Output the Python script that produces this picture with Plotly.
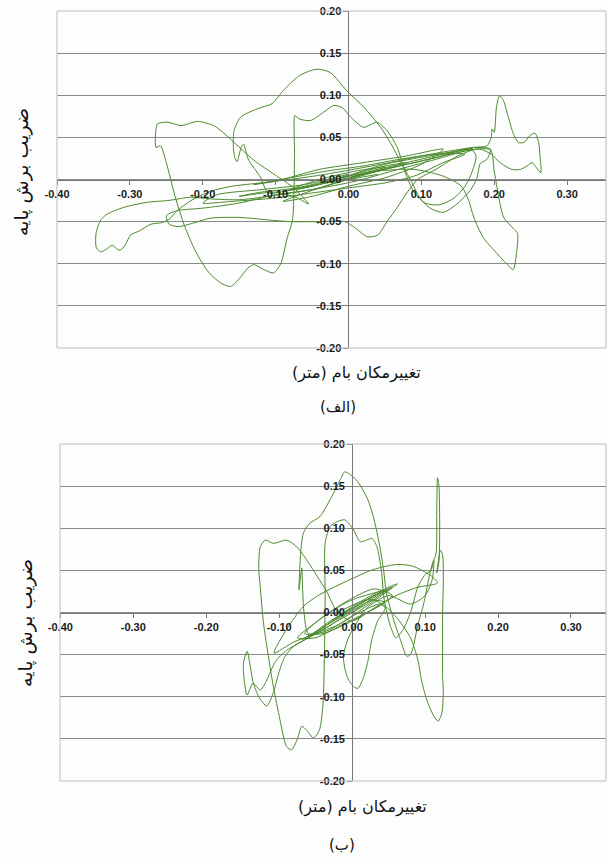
import plotly.graph_objects as go

# ---------------- data: chart (الف) ----------------
disp_a = [
    0.000, 0.040, 0.080, 0.050, 0.000, -0.050, -0.090, -0.060, -0.010, 0.050, 0.110, 0.150, 0.170, 0.120, 0.060, 0.010, -0.050, -0.110, -0.150, -0.190,
    -0.216, -0.248, -0.276, -0.308, -0.331, -0.340, -0.346, -0.347, -0.346, -0.340, -0.331, -0.324, -0.315, -0.308, -0.299, -0.287, -0.271, -0.255, -0.246, -0.235,
    -0.216, -0.189, -0.160, -0.120, -0.080, -0.040, 0.000, 0.050, 0.100, 0.140, 0.170, 0.190, 0.196, 0.197, 0.200, 0.203, 0.207, 0.212, 0.219, 0.226,
    0.233, 0.241, 0.249, 0.256, 0.261, 0.263, 0.264, 0.258, 0.252, 0.245, 0.236, 0.224, 0.208, 0.196, 0.180, 0.150, 0.100, 0.050, 0.000, -0.050,
    -0.100, -0.150, -0.200, -0.235, -0.250, -0.246, -0.234, -0.214, -0.190, -0.150, -0.110, -0.080, -0.040, -0.005, 0.010, 0.026, 0.040, 0.053, 0.067, 0.080,
    0.095, 0.120, 0.150, 0.175, 0.195, 0.200, 0.205, 0.213, 0.226, 0.232, 0.231, 0.226, 0.217, 0.204, 0.185, 0.172, 0.165, 0.155, 0.130, 0.090,
    0.040, 0.000, -0.040, -0.080, -0.110, -0.121, -0.137, -0.141, -0.144, -0.147, -0.153, -0.156, -0.158, -0.157, -0.148, -0.125, -0.105, -0.089, -0.066, -0.043,
    -0.025, -0.002, 0.021, 0.044, 0.058, 0.072, 0.085, 0.098, 0.112, 0.130, 0.149, 0.167, 0.176, 0.181, 0.190, 0.195, 0.175, 0.130, 0.080, 0.030,
    -0.020, -0.070, -0.120, -0.150, -0.100, -0.070, -0.055, -0.075, -0.100, -0.130, -0.157, -0.171, -0.185, -0.207, -0.230, -0.248, -0.262, -0.265, -0.264, -0.258,
    -0.250, -0.238, -0.225, -0.210, -0.192, -0.175, -0.162, -0.150, -0.138, -0.130, -0.118, -0.103, -0.093, -0.084, -0.077, -0.075, -0.074, -0.0735, -0.068, -0.052,
    -0.034, -0.020, -0.008, 0.003, 0.021, 0.039, 0.053, 0.067, 0.078, 0.090, 0.105, 0.125, 0.145, 0.160, 0.170, 0.175, 0.168, 0.120, 0.060, 0.010,
    -0.040, -0.080, -0.040, 0.010, 0.050, 0.020, -0.030, 0.000, -0.060, -0.120, -0.180, -0.200, -0.160, -0.100, -0.050, 0.000, 0.050, 0.090, 0.130, 0.160,
    0.120, 0.070, 0.020, -0.030, -0.080, -0.130, -0.100, -0.040, 0.020, 0.080, 0.130, 0.100, 0.050, 0.000, -0.050, -0.090, -0.060, -0.010, 0.040,
]
shear_a = [
    0.002, 0.012, 0.020, 0.016, 0.004, -0.008, -0.014, -0.010, 0.002, 0.018, 0.028, 0.034, 0.037, 0.024, 0.010, -0.002, -0.012, -0.020, -0.024, -0.023,
    -0.021, -0.025, -0.027, -0.033, -0.041, -0.048, -0.062, -0.072, -0.081, -0.086, -0.082, -0.078, -0.084, -0.080, -0.066, -0.061, -0.053, -0.051, -0.047, -0.037,
    -0.025, -0.014, -0.008, -0.004, 0.000, 0.005, 0.011, 0.019, 0.028, 0.034, 0.038, 0.040, 0.050, 0.060, 0.056, 0.085, 0.099, 0.095, 0.075, 0.055,
    0.044, 0.044, 0.052, 0.055, 0.044, 0.026, 0.008, 0.014, 0.020, 0.016, 0.012, 0.012, 0.020, 0.030, 0.036, 0.032, 0.022, 0.012, 0.000, -0.012,
    -0.018, -0.028, -0.034, -0.037, -0.043, -0.053, -0.056, -0.052, -0.046, -0.045, -0.048, -0.050, -0.050, -0.050, -0.058, -0.068, -0.066, -0.050, -0.033, -0.016,
    0.000, 0.012, 0.028, 0.036, 0.035, 0.010, -0.015, -0.045, -0.058, -0.064, -0.084, -0.107, -0.100, -0.088, -0.069, -0.045, -0.025, -0.008, 0.004, 0.012,
    0.010, 0.004, -0.004, -0.012, -0.016, 0.003, 0.023, 0.034, 0.042, 0.039, 0.021, 0.026, 0.038, 0.058, 0.074, 0.084, 0.090, 0.106, 0.124, 0.131,
    0.127, 0.105, 0.086, 0.062, 0.043, 0.020, 0.000, -0.022, -0.034, -0.039, -0.029, -0.013, 0.001, 0.019, 0.024, 0.036, 0.038, 0.030, 0.020, 0.008,
    -0.002, -0.010, -0.015, -0.020, -0.015, -0.022, -0.029, -0.010, 0.005, 0.023, 0.044, 0.055, 0.064, 0.069, 0.064, 0.068, 0.066, 0.050, 0.038, 0.040,
    0.020, -0.020, -0.055, -0.085, -0.110, -0.123, -0.127, -0.118, -0.105, -0.101, -0.106, -0.111, -0.100, -0.069, -0.049, -0.020, 0.030, 0.076, 0.072, 0.070,
    0.080, 0.088, 0.085, 0.074, 0.062, 0.068, 0.058, 0.038, 0.008, -0.015, -0.028, -0.030, -0.022, -0.008, 0.010, 0.028, 0.036, 0.026, 0.014, 0.004,
    -0.006, -0.012, 0.000, 0.010, 0.015, 0.006, -0.004, 0.006, -0.006, -0.012, -0.018, -0.028, -0.026, -0.022, -0.016, -0.010, -0.004, 0.004, 0.020, 0.030,
    0.030, 0.024, 0.016, 0.010, 0.002, -0.006, -0.002, 0.012, 0.020, 0.028, 0.036, 0.018, 0.002, -0.008, -0.020, -0.026, -0.016, -0.002, 0.006,
]

# ---------------- data: chart (ب) ----------------
disp_b = [
    0.000, 0.030, 0.055, 0.030, -0.010, -0.045, -0.068, -0.040, -0.005, 0.030, 0.062, 0.040, 0.000, -0.035, -0.060, -0.066, -0.068, -0.069, -0.071, -0.073,
    -0.072, -0.071, -0.067, -0.058, -0.044, -0.026, -0.016, -0.010, 0.006, 0.020, 0.029, 0.038, 0.043, 0.047, 0.057, 0.066, 0.075, 0.080, 0.084, 0.090,
    0.098, 0.105, 0.110, 0.115, 0.116, 0.117, 0.119, 0.120, 0.119, 0.116, 0.118, 0.121, 0.124, 0.125, 0.124, 0.124, 0.124, 0.125, 0.123, 0.118,
    0.112, 0.102, 0.095, 0.090, 0.080, 0.060, 0.040, 0.010, -0.020, -0.050, -0.070, -0.090, -0.105, -0.118, -0.126, -0.136, -0.144, -0.148, -0.149, -0.144,
    -0.140, -0.136, -0.128, -0.117, -0.108, -0.100, -0.092, -0.080, -0.060, -0.030, 0.000, 0.030, 0.050, 0.020, -0.020, -0.050, -0.080, -0.107, -0.090, -0.067,
    -0.045, -0.003, 0.029, 0.061, 0.083, 0.109, 0.117, 0.090, 0.060, 0.030, 0.000, -0.020, -0.035, -0.048, -0.062, -0.076, -0.090, -0.108, -0.119, -0.126,
    -0.128, -0.126, -0.122, -0.117, -0.108, -0.099, -0.090, -0.083, -0.075, -0.069, -0.062, -0.053, -0.045, -0.040, -0.038, -0.037, -0.037, -0.030, -0.020, -0.010,
    0.002, 0.011, 0.020, 0.027, 0.034, 0.040, 0.044, 0.052, 0.060, 0.070, 0.080, 0.090, 0.100, 0.108, 0.112, 0.110, 0.100, 0.080, 0.050, 0.020,
    -0.005, -0.012, -0.007, 0.002, 0.008, 0.016, 0.022, 0.027, 0.035, 0.045, 0.030, 0.000, -0.030, -0.060, -0.030, 0.010, 0.040, 0.000, -0.040, -0.065,
    -0.040, 0.000, 0.030, 0.055, 0.030, -0.010, -0.050, -0.075, -0.050, -0.015, 0.020, 0.045, 0.020, -0.020,
]
shear_b = [
    0.000, 0.018, 0.030, 0.020, -0.002, -0.020, -0.032, -0.018, 0.004, 0.022, 0.034, 0.020, -0.004, -0.022, -0.025, 0.000, 0.030, 0.053, 0.040, 0.027,
    0.048, 0.066, 0.094, 0.106, 0.114, 0.141, 0.158, 0.167, 0.157, 0.137, 0.114, 0.078, 0.051, 0.023, -0.009, -0.032, -0.052, -0.050, -0.040, -0.015,
    0.010, 0.040, 0.058, 0.070, 0.120, 0.160, 0.150, 0.100, 0.060, 0.047, 0.060, 0.074, 0.068, 0.040, 0.000, -0.050, -0.076, -0.096, -0.119, -0.129,
    -0.123, -0.103, -0.080, -0.056, -0.030, -0.005, 0.010, 0.000, -0.015, -0.025, -0.035, -0.045, -0.058, -0.082, -0.092, -0.084, -0.098, -0.080, -0.060, -0.046,
    -0.062, -0.082, -0.100, -0.111, -0.095, -0.070, -0.052, -0.040, -0.030, -0.012, 0.005, 0.020, 0.028, 0.010, -0.010, -0.025, -0.035, -0.048, -0.020, 0.007,
    0.021, 0.039, 0.051, 0.057, 0.055, 0.043, 0.035, 0.030, 0.020, 0.005, -0.010, 0.000, 0.025, 0.043, 0.062, 0.078, 0.086, 0.082, 0.086, 0.078,
    0.051, 0.031, -0.009, -0.040, -0.088, -0.127, -0.159, -0.163, -0.150, -0.135, -0.140, -0.149, -0.140, -0.110, -0.050, 0.020, 0.083, 0.102, 0.108, 0.110,
    0.098, 0.084, 0.086, 0.088, 0.078, 0.050, 0.015, -0.015, -0.030, -0.020, 0.000, 0.030, 0.045, 0.050, 0.062, 0.040, 0.020, 0.010, 0.020, 0.005,
    -0.030, -0.052, -0.076, -0.088, -0.090, -0.076, -0.056, -0.032, -0.010, 0.005, 0.015, 0.002, -0.015, -0.030, -0.010, 0.010, 0.025, 0.015, -0.005, -0.025,
    -0.025, -0.010, 0.005, 0.020, 0.028, 0.012, -0.012, -0.030, -0.030, -0.015, 0.000, 0.012, 0.015, 0.000,
]

x_ticks = [-0.40, -0.30, -0.20, -0.10, 0.00, 0.10, 0.20, 0.30]
x_tick_labels = ["-0.40", "-0.30", "-0.20", "-0.10", "0.00", "0.10", "0.20", "0.30"]
y_ticks = [-0.20, -0.15, -0.10, -0.05, 0.00, 0.05, 0.10, 0.15, 0.20]
y_tick_labels = ["-0.20", "-0.15", "-0.10", "-0.05", "0.00", "0.05", "0.10", "0.15", "0.20"]

x_title = "تغییرمکان بام (متر)"
y_title = "ضریب برش پایه"
panel_labels = ["(الف)", "(ب)"]

assert len(disp_a) == len(shear_a), (len(disp_a), len(shear_a))
assert len(disp_b) == len(shear_b), (len(disp_b), len(shear_b))

W, H = 608, 857
GREEN = "#4b8b2d"
GRID = "#8a8a8a"
BORDER = "#bdbdbd"
tickfont = dict(family="Liberation Sans, Arial", size=11, color="#1a1a1a", weight="bold")
persian_font = "DejaVu Sans"


def px_x(p):
    return p / W


def px_y(p):
    return 1 - p / H


fig = go.Figure()
fig.add_trace(go.Scatter(x=disp_a, y=shear_a, mode="lines", xaxis="x", yaxis="y",
                         line=dict(color=GREEN, width=1, shape="spline", smoothing=0.7),
                         hoverinfo="skip", showlegend=False))
fig.add_trace(go.Scatter(x=disp_b, y=shear_b, mode="lines", xaxis="x2", yaxis="y2",
                         line=dict(color=GREEN, width=1, shape="spline", smoothing=0.7),
                         hoverinfo="skip", showlegend=False))

panels = [
    # (left px, right px, top px, bottom px, xmin, xmax)
    (57, 606, 11, 348, -0.40, 0.3534),
    (60, 606, 444, 781, -0.4005, 0.348),
]

layout = dict(width=W, height=H, margin=dict(l=0, r=0, t=0, b=0, autoexpand=False),
              paper_bgcolor="#fdfdfd", plot_bgcolor="#fdfdfd", showlegend=False)
shapes = []
for i, (l, r, t, b, xmin, xmax) in enumerate(panels):
    sx = "" if i == 0 else str(i + 1)
    ydom = [px_y(b), px_y(t)]
    xdom = [px_x(l), px_x(r)]
    zero_x_paper = xdom[0] + (0 - xmin) / (xmax - xmin) * (xdom[1] - xdom[0])
    layout["xaxis" + sx] = dict(
        domain=xdom, range=[xmin, xmax], anchor="free", position=(ydom[0] + ydom[1]) / 2,
        tickmode="array", tickvals=x_ticks, ticktext=x_tick_labels,
        ticks="outside", ticklen=4, tickcolor="#777777", tickfont=tickfont,
        showline=True, linecolor="#777777", linewidth=1, automargin=False,
        showgrid=False, zeroline=False, fixedrange=True,
    )
    layout["yaxis" + sx] = dict(
        domain=ydom, range=[-0.2, 0.2], anchor="free", position=zero_x_paper,
        tickmode="array", tickvals=y_ticks, ticktext=y_tick_labels,
        ticks="outside", ticklen=5, tickcolor="#777777", tickfont=tickfont,
        showline=True, linecolor="#777777", linewidth=1, automargin=False,
        showgrid=True, gridcolor=GRID, gridwidth=1, zeroline=False, fixedrange=True,
    )
    shapes.append(dict(type="rect", xref="paper", yref="paper",
                       x0=xdom[0], x1=xdom[1], y0=ydom[0], y1=ydom[1],
                       line=dict(color=BORDER, width=1), layer="above"))
layout["shapes"] = shapes


def label(text, cx, cy, size, angle=0):
    return dict(text=text, x=px_x(cx), y=px_y(cy), xref="paper", yref="paper",
                xanchor="center", yanchor="middle", showarrow=False, textangle=angle,
                font=dict(family=persian_font, size=size, color="#111111"))


layout["annotations"] = [
    label(x_title, 356, 373, 16),
    label(panel_labels[0], 338, 407, 15),
    label(y_title, 22, 172, 19, -90),
    label(x_title, 362, 807, 16),
    label(panel_labels[1], 342, 845, 15),
    label(y_title, 25, 623, 19, -90),
]

fig.update_layout(**layout)
fig.write_html("out.html", config={"displayModeBar": False},
               post_script="document.body.style.margin='0px';")
